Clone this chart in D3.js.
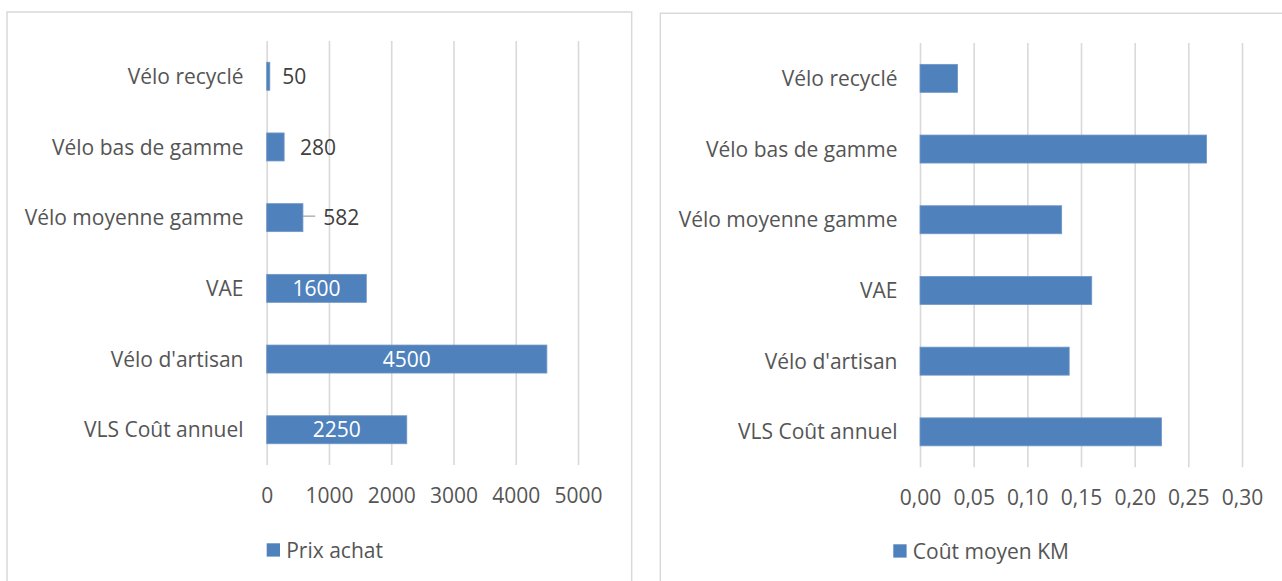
<!DOCTYPE html>
<html>
<head>
<meta charset="utf-8">
<script src="https://cdn.jsdelivr.net/npm/d3@7"></script>
<style>
  body { margin: 0; background: #fff; }
  svg { display: block; }
  text { font-family: "Open Sans", "Noto Sans", sans-serif; }
</style>
</head>
<body>
<svg id="chart" width="1282" height="581"></svg>
<script>
// Bicycle cost comparison: purchase price and average cost per km
const categories = ["Vélo recyclé", "Vélo bas de gamme", "Vélo moyenne gamme", "VAE", "Vélo d'artisan", "VLS Coût annuel"];
const prixAchat = [50, 280, 582, 1600, 4500, 2250];
const coutMoyenKm = [0.035, 0.267, 0.132, 0.160, 0.139, 0.225];
const prixTicks = [0, 1000, 2000, 3000, 4000, 5000];
const coutTicks = [0, 0.05, 0.10, 0.15, 0.20, 0.25, 0.30];
const seriesNames = ["Prix achat", "Coût moyen KM"];

const BAR = "#4F81BD";
const GRID = "#d9d9d9";
const TEXT = "#555555";
const LABEL = "#404040";
const FONT = 21;

const frLocale = d3.formatLocale({ decimal: ",", thousands: " ", grouping: [3], currency: ["", " €"] });

const svg = d3.select("#chart");

// Data-label placement for the price panel (small bars get their label outside)
const labelLayout = {
  gap: 12.5,
  nudge: { "Vélo bas de gamme": 3.4, "Vélo moyenne gamme": 7.8 },
  leader: ["Vélo moyenne gamme"]
};

function drawPanel(opt) {
  const g = svg.append("g");

  // chart frame
  g.append("rect")
    .attr("x", opt.frame.x).attr("y", opt.frame.y)
    .attr("width", opt.frame.w).attr("height", opt.frame.h)
    .attr("fill", "none").attr("stroke", GRID).attr("stroke-width", 1.5);

  const x = d3.scaleLinear().domain(opt.domain).range([opt.plot.x0, opt.plot.x1]);
  const p = 0.604;
  const y = d3.scaleBand().domain(categories)
    .range([opt.plot.y0, opt.plot.y1])
    .paddingInner(p).paddingOuter(p / 2);

  // vertical gridlines + tick labels
  const axis = d3.axisBottom(x).tickValues(opt.ticks)
    .tickSize(-(opt.plot.y1 - opt.plot.y0))
    .tickFormat(opt.tickFormat);
  const ax = g.append("g").attr("transform", `translate(0,${opt.plot.y1})`).call(axis);
  ax.select(".domain").remove();
  ax.selectAll(".tick line").attr("stroke", GRID).attr("stroke-width", 1.6);
  ax.selectAll(".tick text")
    .attr("y", opt.tickY - opt.plot.y1).attr("dy", "0.36em")
    .attr("fill", TEXT).style("font-size", FONT + "px")
    .style("font-family", '"Open Sans", "Noto Sans", sans-serif');

  // category labels
  g.append("g").selectAll("text").data(categories).join("text")
    .attr("x", opt.catX)
    .attr("y", d => y(d) + y.bandwidth() / 2)
    .attr("dy", "0.36em")
    .attr("text-anchor", "end")
    .attr("fill", TEXT)
    .style("font-size", FONT + "px")
    .text(d => d);

  // bars
  const rows = categories.map((c, i) => ({ c, v: opt.values[i] }));
  g.append("g").selectAll("rect").data(rows).join("rect")
    .attr("x", x(0))
    .attr("y", d => y(d.c))
    .attr("width", d => x(d.v) - x(0))
    .attr("height", y.bandwidth())
    .attr("fill", BAR)
    .attr("stroke", "#7096c6").attr("stroke-width", 0.8);

  // data labels
  if (opt.labels) {
    const lg = g.append("g");
    rows.forEach(d => {
      const w = x(d.v) - x(0);
      const cy = y(d.c) + y.bandwidth() / 2;
      const t = lg.append("text")
        .attr("y", cy).attr("dy", "0.36em")
        .style("font-size", FONT + "px")
        .text(opt.labelFormat(d.v));
      const tw = t.node().getComputedTextLength();
      if (w > tw + 16) {
        t.attr("x", x(0) + w / 2).attr("text-anchor", "middle").attr("fill", "#fff");
      } else {
        const lx = x(d.v) + labelLayout.gap + (labelLayout.nudge[d.c] || 0);
        t.attr("x", lx).attr("fill", LABEL);
        if (labelLayout.leader.includes(d.c)) {
          lg.append("line")
            .attr("x1", x(d.v)).attr("x2", lx - 8)
            .attr("y1", cy - 1.5).attr("y2", cy - 1.5)
            .attr("stroke", "#a6a6a6").attr("stroke-width", 1.3);
        }
      }
    });
  }

  // legend
  g.append("rect")
    .attr("x", opt.legend.x).attr("y", opt.legend.y - 6.7)
    .attr("width", 13.3).attr("height", 13.3)
    .attr("fill", BAR);
  g.append("text")
    .attr("x", opt.legend.x + 19.5).attr("y", opt.legend.y).attr("dy", "0.36em")
    .attr("fill", TEXT).style("font-size", FONT + "px")
    .text(opt.name);
}

drawPanel({
  frame: { x: 7, y: 12, w: 624.7, h: 620 },
  plot: { x0: 266.7, x1: 578, y0: 40.9, y1: 465.1 },
  domain: [0, 5000],
  ticks: prixTicks,
  tickFormat: d3.format("d"),
  tickY: 495.5,
  catX: 243.5,
  values: prixAchat,
  labels: true,
  labelFormat: d3.format("d"),
  legend: { x: 266.7, y: 550 },
  name: seriesNames[0]
});

drawPanel({
  frame: { x: 660.3, y: 13.3, w: 700, h: 620 },
  plot: { x0: 920, x1: 1242, y0: 43, y1: 467.2 },
  domain: [0, 0.30],
  ticks: coutTicks,
  tickFormat: frLocale.format(".2f"),
  tickY: 497,
  catX: 897.5,
  values: coutMoyenKm,
  labels: false,
  legend: { x: 893.3, y: 551 },
  name: seriesNames[1]
});
</script>
</body>
</html>
